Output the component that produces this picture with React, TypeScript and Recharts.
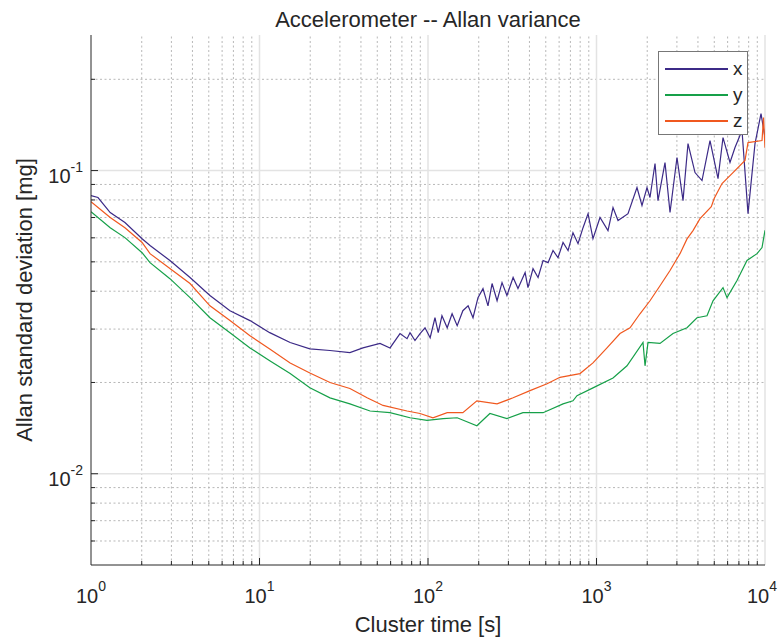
import { LineChart, Line, XAxis, YAxis, ReferenceLine, Legend } from "recharts"

const FONT = '"Liberation Sans", Arial, Helvetica, sans-serif'
const INK = "#262626"
const GRID = "#e3e3e3"
const MINOR_GRID = "#b8b8b8"

// cluster time [s], Allan deviation [mg]
const accX: [number, number][] = [
  [1, 0.0827], [1.1, 0.0815], [1.3, 0.0727], [1.59, 0.0674], [2.01, 0.0596],
  [2.24, 0.0566], [2.94, 0.0505], [3.87, 0.0444], [5.08, 0.0387], [6.68, 0.0345],
  [8.78, 0.032], [11.5, 0.0292], [15.2, 0.0271], [19.9, 0.0258], [26.2, 0.0255],
  [34.4, 0.0251], [41.1, 0.026], [51.9, 0.0269], [59.5, 0.026], [68.2, 0.029],
  [75.1, 0.0279], [78.2, 0.0292], [83.7, 0.0275], [89.7, 0.029], [96, 0.0303],
  [103, 0.0281], [110, 0.0327], [115, 0.0292], [121, 0.0332], [130, 0.0303],
  [139, 0.0337], [149, 0.0308], [161, 0.0345], [173, 0.0358], [185, 0.0327],
  [198, 0.0381], [212, 0.0408], [227, 0.0358], [240, 0.0424], [257, 0.0372],
  [275, 0.0427], [294, 0.0387], [320, 0.0444], [342, 0.0408], [377, 0.0461],
  [392, 0.0411], [420, 0.0475], [450, 0.0444], [482, 0.0505], [516, 0.0497],
  [552, 0.0545], [591, 0.0516], [633, 0.0579], [678, 0.0545], [725, 0.0624],
  [777, 0.0574], [832, 0.0648], [891, 0.0721], [953, 0.0596], [1049, 0.07],
  [1170, 0.0634], [1253, 0.0755], [1342, 0.0684], [1538, 0.0721], [1739, 0.0879],
  [1862, 0.0767], [1994, 0.0879], [2077, 0.0815], [2225, 0.1055], [2317, 0.0796],
  [2550, 0.1063], [2731, 0.0727], [3004, 0.1104], [3262, 0.0796], [3492, 0.1228],
  [3843, 0.0985], [4228, 0.0927], [4717, 0.1256], [5262, 0.0941], [5634, 0.1285],
  [6199, 0.1063], [6637, 0.1191], [7304, 0.1355], [7928, 0.0721], [8724, 0.1228],
  [9469, 0.1542], [10000, 0.1285],
]

const accY: [number, number][] = [
  [1, 0.0732], [1.3, 0.0648], [1.59, 0.0601], [2.01, 0.0536], [2.24, 0.0497],
  [2.94, 0.044], [3.87, 0.0381], [5.08, 0.0327], [6.68, 0.0292], [8.78, 0.026],
  [11.5, 0.0236], [15.2, 0.0214], [19.9, 0.0192], [26.2, 0.0178], [34.4, 0.017],
  [45.3, 0.0161], [59.5, 0.0159], [78.2, 0.0153], [98.6, 0.015], [123, 0.0152],
  [149, 0.0153], [195, 0.0144], [233, 0.0158], [294, 0.0152], [366, 0.0159],
  [482, 0.0159], [633, 0.017], [725, 0.0174], [766, 0.0181], [953, 0.0192],
  [1253, 0.0207], [1517, 0.0227], [1888, 0.0271], [1941, 0.0227], [2022, 0.0271],
  [2382, 0.0269], [2844, 0.029], [3445, 0.0303], [3949, 0.0327], [4527, 0.0332],
  [4915, 0.0372], [5634, 0.0411], [5951, 0.0381], [6821, 0.0434], [7820, 0.0505],
  [8969, 0.0532], [9601, 0.0557], [10000, 0.0635],
]

const accZ: [number, number][] = [
  [1, 0.079], [1.3, 0.07], [1.59, 0.0648], [2.01, 0.0579], [2.24, 0.0532],
  [2.94, 0.0475], [3.87, 0.0424], [5.08, 0.0358], [6.68, 0.032], [8.78, 0.0285],
  [11.5, 0.0258], [15.2, 0.0232], [19.9, 0.0215], [26.2, 0.02], [34.4, 0.0191],
  [43.5, 0.0178], [54.1, 0.0168], [75.1, 0.0161], [89.7, 0.0158], [107, 0.0153],
  [130, 0.0159], [161, 0.0159], [195, 0.0174], [257, 0.017], [320, 0.0178],
  [403, 0.0188], [509, 0.0198], [607, 0.0208], [798, 0.0214], [953, 0.0232],
  [1154, 0.026], [1379, 0.029], [1581, 0.0303], [1812, 0.0337], [2077, 0.0372],
  [2382, 0.0417], [2731, 0.0468], [3130, 0.0532], [3445, 0.0595], [3739, 0.0634],
  [4114, 0.0694], [4800, 0.076], [5000, 0.081], [5558, 0.0906], [6458, 0.0985],
  [7608, 0.108], [7928, 0.1237], [9601, 0.1256], [9800, 0.1496], [10000, 0.119],
]

const X_TICKS = [1, 10, 100, 1000, 10000]
const Y_TICKS = [0.01, 0.1]
const X_MINOR = [
  2, 3, 4, 5, 6, 7, 8, 9,
  20, 30, 40, 50, 60, 70, 80, 90,
  200, 300, 400, 500, 600, 700, 800, 900,
  2000, 3000, 4000, 5000, 6000, 7000, 8000, 9000,
]
const Y_MINOR = [0.006, 0.007, 0.008, 0.009, 0.02, 0.03, 0.04, 0.05, 0.06, 0.07, 0.08, 0.09, 0.2]

const Y_MIN = 0.005
const Y_MAX = 0.28

const toRows = (pts: [number, number][]) => pts.map(([t, v]) => ({ t, v }))

const SERIES = [
  { name: "x", color: "#3c2a87", data: toRows(accX) },
  { name: "y", color: "#16a049", data: toRows(accY) },
  { name: "z", color: "#f0581f", data: toRows(accZ) },
]

// tick mark lengths expressed in axis units (px / px-per-decade)
const yTickEnd = (len: number) => Math.pow(10, len / 168.5)
const xTickEnd = (len: number) => Y_MIN * Math.pow(10, len / 303)

const XTick = ({ x, payload }: any) => (
  <text x={x} y={603} textAnchor="middle" fill={INK} fontFamily={FONT} fontSize={20}>
    <tspan>10</tspan>
    <tspan dy={-12} fontSize={14}>{Math.round(Math.log10(payload.value))}</tspan>
  </text>
)

const YTick = ({ y, payload }: any) => (
  <text x={83} y={y + 12} textAnchor="end" fill={INK} fontFamily={FONT} fontSize={20}>
    <tspan>10</tspan>
    <tspan dy={-11} fontSize={14}>{Math.round(Math.log10(payload.value))}</tspan>
  </text>
)

const renderLegend = () => (
  <div
    style={{
      border: "1.5px solid #777",
      background: "#fff",
      padding: "4px 0 4px 6px",
      boxSizing: "border-box",
      width: 90,
      height: 84,
      fontFamily: FONT,
      fontSize: 19,
      color: INK,
    }}
  >
    {SERIES.map((s) => (
      <div key={s.name} style={{ display: "flex", alignItems: "center", height: 26 }}>
        <span style={{ display: "inline-block", width: 63, height: 1.3, background: s.color }} />
        <span style={{ marginLeft: 5, lineHeight: "20px" }}>{s.name}</span>
      </div>
    ))}
  </div>
)

export default function App() {
  return (
    <div style={{ position: "absolute", left: 0, top: 0, width: 782, height: 639, background: "#fff" }}>
      <LineChart width={782} height={639} margin={{ top: 35, right: 17, left: 31, bottom: 24 }}>
        <XAxis
          type="number"
          dataKey="t"
          scale="log"
          domain={[1, 10000]}
          ticks={X_TICKS}
          allowDataOverflow
          height={50}
          axisLine={{ stroke: INK }}
          tickLine={false}
          tick={<XTick />}
        />
        <YAxis
          type="number"
          dataKey="v"
          scale="log"
          domain={[Y_MIN, Y_MAX]}
          ticks={Y_TICKS}
          allowDataOverflow
          width={60}
          axisLine={{ stroke: INK }}
          tickLine={false}
          tick={<YTick />}
        />
        {X_MINOR.map((v) => (
          <ReferenceLine key={`xm${v}`} x={v} stroke={MINOR_GRID} strokeDasharray="2 2.5" />
        ))}
        {Y_MINOR.map((v) => (
          <ReferenceLine key={`ym${v}`} y={v} stroke={MINOR_GRID} strokeDasharray="2 2.5" />
        ))}
        {X_TICKS.slice(1).map((v) => (
          <ReferenceLine key={`xg${v}`} x={v} stroke={GRID} strokeWidth={1.5} />
        ))}
        {Y_TICKS.map((v) => (
          <ReferenceLine key={`yg${v}`} y={v} stroke={GRID} strokeWidth={1.5} />
        ))}
        {X_TICKS.slice(1, 4).map((v) => (
          <ReferenceLine key={`xt${v}`} segment={[{ x: v, y: Y_MIN }, { x: v, y: xTickEnd(7) }]} stroke={INK} />
        ))}
        {X_MINOR.map((v) => (
          <ReferenceLine key={`xmt${v}`} segment={[{ x: v, y: Y_MIN }, { x: v, y: xTickEnd(4) }]} stroke={INK} />
        ))}
        {Y_TICKS.map((v) => (
          <ReferenceLine key={`yt${v}`} segment={[{ x: 1, y: v }, { x: yTickEnd(7), y: v }]} stroke={INK} />
        ))}
        {Y_MINOR.map((v) => (
          <ReferenceLine key={`ymt${v}`} segment={[{ x: 1, y: v }, { x: yTickEnd(4), y: v }]} stroke={INK} />
        ))}
        {SERIES.map((s) => (
          <Line
            key={s.name}
            data={s.data}
            dataKey="v"
            name={s.name}
            type="linear"
            stroke={s.color}
            strokeWidth={1.2}
            dot={false}
            isAnimationActive={false}
          />
        ))}
        <Legend
          layout="vertical"
          align="center"
          verticalAlign="middle"
          content={renderLegend}
          wrapperStyle={{ left: 658, top: 51, width: 90, height: 84 }}
        />
      </LineChart>
      <svg
        width={782}
        height={639}
        style={{ position: "absolute", left: 0, top: 0, pointerEvents: "none" }}
        fontFamily={FONT}
        fill={INK}
      >
        <text x={428} y={27} textAnchor="middle" fontSize={22}>
          Accelerometer -- Allan variance
        </text>
        <text x={428} y={632} textAnchor="middle" fontSize={22}>
          Cluster time [s]
        </text>
        <text x={32} y={300} textAnchor="middle" fontSize={22} transform="rotate(-90 32 300)">
          Allan standard deviation [mg]
        </text>
      </svg>
    </div>
  )
}
